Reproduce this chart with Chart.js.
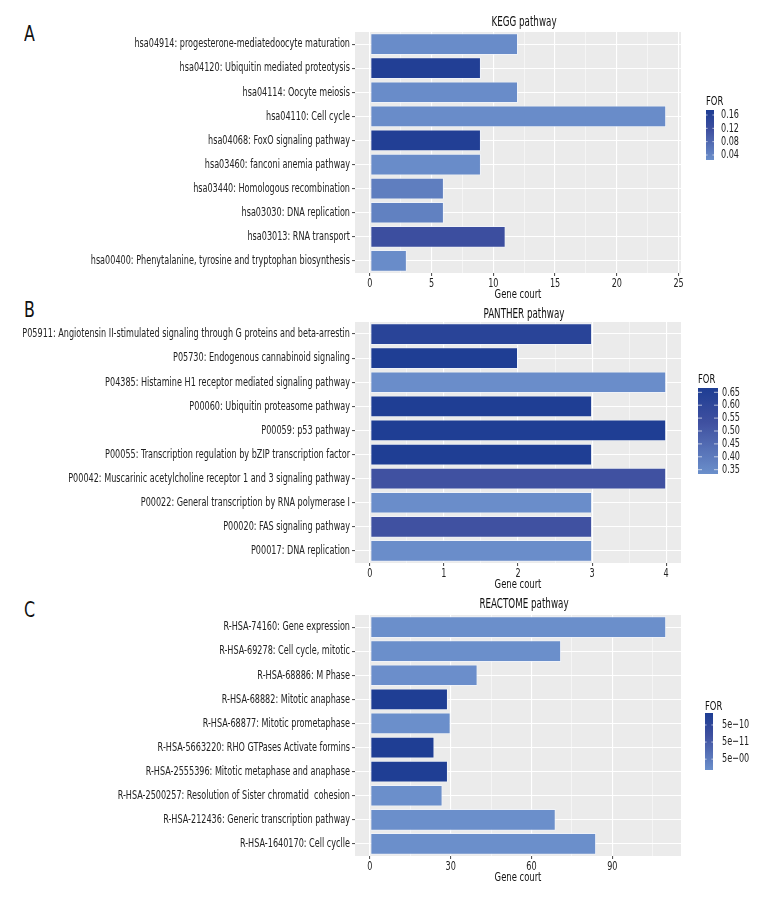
<!DOCTYPE html>
<html>
<head>
<meta charset="utf-8">
<script src="https://cdn.jsdelivr.net/npm/chart.js@4.4.0/dist/chart.umd.min.js"></script>
<style>
  html, body { margin: 0; padding: 0; background: #ffffff; }
  body { width: 780px; height: 900px; position: relative; overflow: hidden;
         font-family: 'DejaVu Sans Condensed', 'Liberation Sans Narrow', 'Roboto', sans-serif; }
  canvas { position: absolute; left: 0; }
  .letter { position: absolute; left: 24px; font-size: 22px; line-height: 24px; color: #111;
            transform: scaleX(0.8); transform-origin: left center; }
</style>
</head>
<body>
<div class="letter" style="top:22px">A</div>
<div class="letter" style="top:298px">B</div>
<div class="letter" style="top:598px">C</div>
<canvas id="cA" width="780" height="302" style="top:0px"></canvas>
<canvas id="cB" width="780" height="290" style="top:302px"></canvas>
<canvas id="cC" width="780" height="293" style="top:592px"></canvas>
<script>
// ---------------- DATA ----------------
const keggLabels = [
  'hsa04914: progesterone-mediatedoocyte maturation',
  'hsa04120: Ubiquitin mediated proteotysis',
  'hsa04114: Oocyte meiosis',
  'hsa04110: Cell cycle',
  'hsa04068: FoxO signaling pathway',
  'hsa03460: fanconi anemia pathway',
  'hsa03440: Homologous recombination',
  'hsa03030: DNA replication',
  'hsa03013: RNA transport',
  'hsa00400: Phenytalanine, tyrosine and tryptophan biosynthesis'
];
const keggCounts = [12, 9, 12, 24, 9, 9, 6, 6, 11, 3];
const keggFOR = [0.03, 0.168, 0.03, 0.03, 0.168, 0.03, 0.05, 0.045, 0.12, 0.03];
const keggLegendTicks = ['0.16', '0.12', '0.08', '0.04'];

const pantherLabels = [
  'P05911: Angiotensin II-stimulated signaling through G proteins and beta-arrestin',
  'P05730: Endogenous cannabinoid signaling',
  'P04385: Histamine H1 receptor mediated signaling pathway',
  'P00060: Ubiquitin proteasome pathway',
  'P00059: p53 pathway',
  'P00055: Transcription regulation by bZIP transcription factor',
  'P00042: Muscarinic acetylcholine receptor 1 and 3 signaling pathway',
  'P00022: General transcription by RNA polymerase I',
  'P00020: FAS signaling pathway',
  'P00017: DNA replication'
];
const pantherCounts = [3, 2, 4, 3, 4, 3, 4, 3, 3, 3];
const pantherFOR = [0.62, 0.66, 0.34, 0.66, 0.66, 0.66, 0.53, 0.34, 0.53, 0.34];
const pantherLegendTicks = ['0.65', '0.60', '0.55', '0.50', '0.45', '0.40', '0.35'];

const reactomeLabels = [
  'R-HSA-74160: Gene expression',
  'R-HSA-69278: Cell cycle, mitotic',
  'R-HSA-68886: M Phase',
  'R-HSA-68882: Mitotic anaphase',
  'R-HSA-68877: Mitotic prometaphase',
  'R-HSA-5663220: RHO GTPases Activate formins',
  'R-HSA-2555396: Mitotic metaphase and anaphase',
  'R-HSA-2500257: Resolution of Sister chromatid  cohesion',
  'R-HSA-212436: Generic transcription pathway',
  'R-HSA-1640170: Cell cyclle'
];
const reactomeCounts = [110, 71, 40, 29, 30, 24, 29, 27, 69, 84];
const reactomeFOR = [2e-12, 2e-12, 3e-12, 6.1e-10, 2e-12, 6.1e-10, 6.1e-10, 2e-12, 2e-12, 2e-12];
const reactomeLegendTicks = ['5e\u221210', '5e\u221211', '5e\u221200'];

// ---------------- STYLE / LAYOUT ----------------
const FONT = "'DejaVu Sans Condensed', 'Liberation Sans Narrow', 'Roboto', sans-serif";
const K = 0.72; // horizontal text compression to mimic the condensed typeface
const FS = 12.5;
const TXT = '#222';

// compress every axis label / axis title horizontally around its own anchor
function compressText(proto, name) {
  const orig = proto[name];
  proto[name] = function (...args) {
    const ctx = this.ctx;
    const ot = ctx.translate;
    ctx.translate = function (x, y) { ot.call(this, x, y); this.scale(K, 1); };
    try { return orig.apply(this, args); } finally { ctx.translate = ot; }
  };
}
compressText(Chart.Scale.prototype, 'drawLabels');
compressText(Chart.Scale.prototype, 'drawTitle');

function narrowText(ctx, text, x, y, align) {
  ctx.save();
  ctx.translate(x, y);
  ctx.scale(K, 1);
  ctx.textAlign = align;
  ctx.fillText(text, 0, 0);
  ctx.restore();
}

const STOPS = [[0, [107, 143, 203]], [0.6, [63, 80, 160]], [1, [30, 61, 147]]];
function colorAt(t) {
  t = Math.max(0, Math.min(1, t));
  for (let i = 1; i < STOPS.length; i++) {
    if (t <= STOPS[i][0]) {
      const [t0, c0] = STOPS[i - 1], [t1, c1] = STOPS[i];
      const f = (t - t0) / (t1 - t0);
      const c = c0.map((v, k) => Math.round(v + (c1[k] - v) * f));
      return `rgb(${c[0]},${c[1]},${c[2]})`;
    }
  }
  const c = STOPS[STOPS.length - 1][1];
  return `rgb(${c[0]},${c[1]},${c[2]})`;
}

const legendPlugin = {
  id: 'colorbarLegend',
  afterDraw(chart, args, o) {
    const ctx = chart.ctx;
    ctx.save();
    ctx.textBaseline = 'middle';
    // panel title
    ctx.fillStyle = '#111';
    ctx.font = `13.5px ${FONT}`;
    narrowText(ctx, o.title, o.titleX, o.titleY, 'center');
    // colour bar
    ctx.font = `13px ${FONT}`;
    narrowText(ctx, 'FOR', o.x, o.forY, 'left');
    const g = ctx.createLinearGradient(0, o.top, 0, o.bottom);
    const n = 20;
    for (let i = 0; i <= n; i++) g.addColorStop(i / n, colorAt(1 - i / n));
    ctx.fillStyle = g;
    ctx.fillRect(o.x, o.top, o.width, o.bottom - o.top);
    const labels = o.labels;
    const h = o.bottom - o.top;
    const y0 = o.top + h * o.insetTop, y1 = o.bottom - h * o.insetBottom;
    ctx.fillStyle = TXT;
    ctx.font = `${FS}px ${FONT}`;
    labels.forEach((lab, i) => {
      const y = labels.length > 1 ? y0 + (y1 - y0) * i / (labels.length - 1) : y0;
      ctx.strokeStyle = 'rgba(255,255,255,0.8)';
      ctx.lineWidth = 0.8;
      const tw = Math.max(1.5, o.width / 5);
      ctx.beginPath();
      ctx.moveTo(o.x, y); ctx.lineTo(o.x + tw, y);
      ctx.moveTo(o.x + o.width - tw, y); ctx.lineTo(o.x + o.width, y);
      ctx.stroke();
      narrowText(ctx, lab, o.labelX, y, 'left');
    });
    ctx.restore();
  }
};

const panelBg = {
  id: 'panelBg',
  beforeDraw(chart) {
    const a = chart.chartArea, ctx = chart.ctx;
    ctx.save();
    ctx.fillStyle = '#ebebeb';
    ctx.fillRect(a.left, a.top, a.right - a.left, a.bottom - a.top);
    ctx.restore();
  }
};

function makeChart(id, cfg) {
  const isMajor = v => Math.abs(v / cfg.major - Math.round(v / cfg.major)) < 1e-6;
  const colors = cfg.FOR.map(v => colorAt((v - cfg.domain[0]) / (cfg.domain[1] - cfg.domain[0])));
  return new Chart(document.getElementById(id), {
    type: 'bar',
    data: {
      labels: cfg.labels,
      datasets: [{
        data: cfg.counts,
        backgroundColor: colors,
        borderColor: 'rgba(240,244,252,0.75)',
        borderWidth: 1,
        borderSkipped: false,
        categoryPercentage: 0.9,
        barPercentage: 1.0
      }]
    },
    options: {
      indexAxis: 'y',
      responsive: false,
      animation: false,
      events: [],
      layout: { padding: { left: 0, right: 99, top: cfg.areaTop, bottom: 0 } },
      plugins: {
        legend: { display: false },
        tooltip: { enabled: false },
        title: { display: false },
        colorbarLegend: Object.assign({ title: cfg.title, titleX: 524, titleY: cfg.titleY }, cfg.legend)
      },
      scales: {
        x: {
          type: 'linear',
          min: cfg.range[0], max: cfg.range[1],
          border: { display: false },
          afterFit: s => { s.height = 29; },
          grid: {
            color: '#ffffff',
            lineWidth: c => (c.tick && isMajor(c.tick.value)) ? 1.1 : 0.5,
            tickColor: c => (c.tick && isMajor(c.tick.value)) ? '#555' : 'rgba(0,0,0,0)',
            tickLength: 3,
            drawTicks: true
          },
          ticks: {
            stepSize: cfg.major / 2,
            includeBounds: false,
            autoSkip: false,
            maxRotation: 0,
            padding: 0,
            color: TXT,
            font: { family: FONT, size: FS },
            callback: v => isMajor(v) ? String(Math.round(v)) : ''
          },
          title: {
            display: true, text: 'Gene court', color: '#111',
            font: { family: FONT, size: 13, lineHeight: 1.2 },
            padding: { top: 0, bottom: 0 }
          }
        },
        y: {
          type: 'category',
          offset: true,
          border: { display: false },
          afterFit: s => { s.width = 355; },
          grid: {
            color: '#ffffff', lineWidth: 1.1, offset: false,
            tickColor: '#555', tickLength: 3, drawTicks: true
          },
          ticks: {
            autoSkip: false, padding: 2, color: TXT,
            font: { family: FONT, size: FS }
          }
        }
      }
    },
    plugins: [panelBg, legendPlugin]
  });
}

makeChart('cA', {
  labels: keggLabels, counts: keggCounts, FOR: keggFOR, domain: [0.025, 0.175],
  title: 'KEGG pathway', titleY: 22, areaTop: 32,
  range: [-1.2, 25.2], major: 5,
  legend: { x: 706, forY: 102, top: 110, bottom: 160, width: 8, labelX: 721,
            insetTop: 0.1, insetBottom: 0.1, labels: keggLegendTicks }
});
makeChart('cB', {
  labels: pantherLabels, counts: pantherCounts, FOR: pantherFOR, domain: [0.334, 0.666],
  title: 'PANTHER pathway', titleY: 12, areaTop: 20,
  range: [-0.2, 4.2], major: 1,
  legend: { x: 698, forY: 78, top: 86, bottom: 172, width: 20, labelX: 722,
            insetTop: 0.05, insetBottom: 0.05, labels: pantherLegendTicks }
});
makeChart('cC', {
  labels: reactomeLabels, counts: reactomeCounts, FOR: reactomeFOR, domain: [0, 6.2e-10],
  title: 'REACTOME pathway', titleY: 12, areaTop: 23,
  range: [-5.5, 115.5], major: 30,
  legend: { x: 705, forY: 115, top: 121, bottom: 178, width: 8, labelX: 722,
            insetTop: 0.21, insetBottom: 0.19, labels: reactomeLegendTicks }
});
</script>
</body>
</html>
